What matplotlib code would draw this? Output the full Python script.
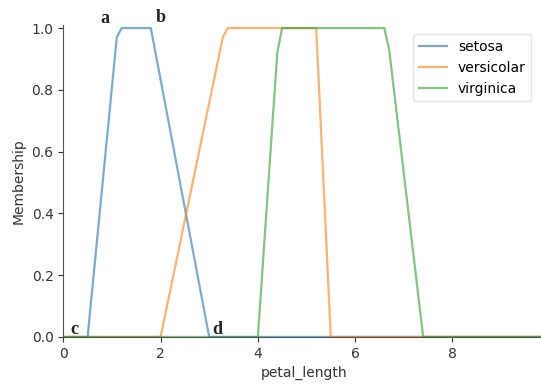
import matplotlib
matplotlib.use("Agg")
import matplotlib.pyplot as plt

# Membership function breakpoints (petal_length universe 0..9.9)
setosa_x = [0.0, 0.5, 1.1, 1.2, 1.8, 3.0, 9.9]
setosa_y = [0.0, 0.0, 0.97, 1.0, 1.0, 0.0, 0.0]
versicolor_x = [0.0, 2.0, 3.28, 3.38, 5.2, 5.5, 9.9]
versicolor_y = [0.0, 0.0, 0.97, 1.0, 1.0, 0.0, 0.0]
virginica_x = [0.0, 4.0, 4.4, 4.5, 6.6, 6.7, 7.4, 9.9]
virginica_y = [0.0, 0.0, 0.92, 1.0, 1.0, 0.93, 0.0, 0.0]
labels = ["setosa", "versicolar", "virginica"]
colors = ["#1f77b4", "#ff7f0e", "#2ca02c"]

fig = plt.figure(figsize=(5.41, 3.90), dpi=100)
ax = fig.add_axes([0.117, 0.136, 0.89, 0.800])

for xs, ys, lab, c in zip([setosa_x, versicolor_x, virginica_x],
                          [setosa_y, versicolor_y, virginica_y], labels, colors):
    ax.plot(xs, ys, color=c, lw=1.6, alpha=0.6, label=lab)

ax.set_xlim(0, 9.9)
ax.set_ylim(0, 1.01)
ax.set_xticks([0, 2, 4, 6, 8])
ax.set_yticks([0.0, 0.2, 0.4, 0.6, 0.8, 1.0])
ax.set_yticklabels(["0.0", "0.2", "0.4", "0.6", "0.8", "1.0"])
ax.spines["top"].set_visible(False)
ax.spines["right"].set_visible(False)
ax.spines["left"].set_color("#555555")
ax.spines["bottom"].set_color("#555555")
ax.tick_params(labelsize=10, colors="#333333")
ax.set_xlabel("petal_length", fontsize=10, color="#333333")
ax.set_ylabel("Membership", fontsize=10, color="#333333")

for t, (x, y) in zip(["a", "b", "c", "d"], [(0.86, 1.03), (2.0, 1.035), (0.22, 0.025), (3.17, 0.025)]):
    ax.text(x, y, t, fontsize=13, family="Liberation Serif", fontweight="bold",
            color="#222222", ha="center", va="center", clip_on=False)

leg = ax.legend(loc="upper right", bbox_to_anchor=(0.995, 0.93), bbox_transform=fig.transFigure,
                fontsize=10, frameon=True, handlelength=2.0)
leg.get_frame().set_edgecolor("#dddddd")

fig.savefig("out.png", dpi=100)
